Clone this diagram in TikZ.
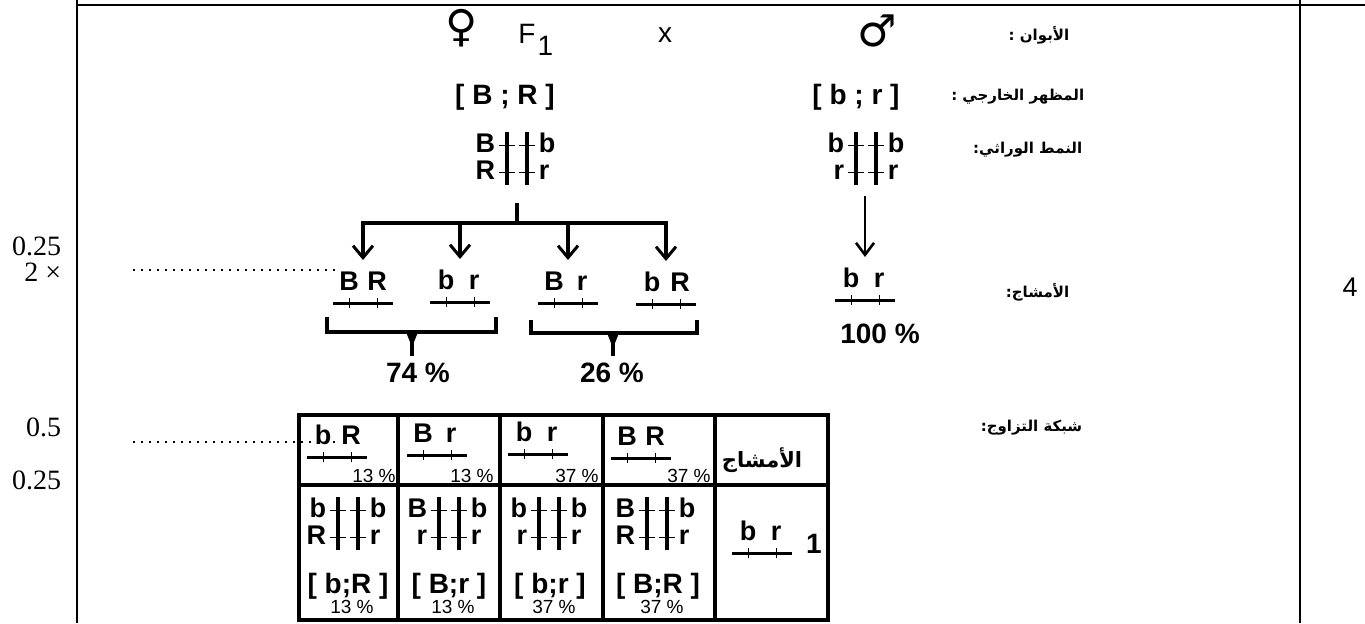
\documentclass[tikz,border=0pt]{standalone}
\usepackage{fontspec}
\setmainfont{Liberation Sans}
\newfontfamily\numfont{Liberation Serif}
\newfontfamily\symfont{DejaVu Sans}
\newfontfamily\arfont[Script=Arabic]{DejaVu Sans}
\TeXXeTstate=1
\usetikzlibrary{arrows.meta, calc}
\tikzset{
  every picture/.style={line width=0.8pt},
  gene/.style={font=\fontsize{13.5}{15}\selectfont\bfseries, inner sep=0pt, anchor=base},
  pheno/.style={font=\fontsize{14}{16}\selectfont\bfseries, inner sep=0pt, anchor=base},
  ratio/.style={font=\fontsize{14}{16}\selectfont\bfseries, inner sep=1pt, anchor=base},
  cellratio/.style={font=\fontsize{9.5}{11}\selectfont, inner sep=0pt, anchor=base},
  arlabel/.style={font=\arfont\bfseries\fontsize{7.5}{9}\selectfont, inner sep=0pt, anchor=east},
  score/.style={font=\numfont\fontsize{14}{16}\selectfont, inner sep=0pt, anchor=base east},
  gender/.style={font=\symfont\bfseries\fontsize{22}{24}\selectfont, inner sep=0pt},
  frame/.style={line width=0.9pt},
  chrom/.style={line width=1.5pt},
  crossbar/.style={line width=0.5pt},
  bar/.style={line width=1.8pt},
  branch/.style={line width=1.6pt},
  arrowdown/.style={line width=1.6pt, -{Straight Barb[length=6pt, width=10pt, line width=1.5pt]}},
  marrow/.style={line width=1pt, -{Straight Barb[length=6pt, width=9pt, line width=1.3pt]}},
  bracketline/.style={line width=1.6pt},
  dots/.style={line width=0.9pt, dash pattern=on 0.9pt off 3.1pt},
  gridouter/.style={line width=2pt},
  gridline/.style={line width=1.6pt},
}
% gamete: name, x, line y, left allele, right allele
\newcommand{\haplo}[5]{%
  \draw[chrom] (#2-30,#3) -- (#2+30,#3);
  \draw[crossbar] (#2-14,#3-5) -- (#2-14,#3+5);
  \draw[crossbar] (#2+14,#3-5) -- (#2+14,#3+5);
  \node[gene] (#1-l) at (#2-14,#3-13) {#4};
  \node[gene] (#1-r) at (#2+14,#3-13) {#5};
  \coordinate (#1) at (#2,#3-43);
}
% pair of homologous chromosomes: name, x, upper tick y, alleles
\newcommand{\chrompair}[7]{%
  \draw[bar] (#2-10,#3-13) -- (#2-10,#3+40);
  \draw[bar] (#2+10,#3-13) -- (#2+10,#3+40);
  \foreach \dy in {0,27} {
    \draw[crossbar] (#2-18,#3+\dy) -- (#2-2,#3+\dy);
    \draw[crossbar] (#2+2,#3+\dy) -- (#2+18,#3+\dy);
  }
  \node[gene, anchor=base east] (#1-ul) at (#2-21,#3+7) {#4};
  \node[gene, anchor=base west] (#1-ur) at (#2+21,#3+7) {#5};
  \node[gene, anchor=base east] (#1-ll) at (#2-21,#3+34) {#6};
  \node[gene, anchor=base west] (#1-lr) at (#2+21,#3+34) {#7};
}
\begin{document}
\begin{tikzpicture}[x=0.5pt, y=-0.5pt]
  \useasboundingbox (0,0) rectangle (1365,623);
  % frame and marks
  \draw[frame] (77,5) -- (1365,5);
  \draw[frame] (77,0) -- (77,623);
  \draw[frame] (1300,0) -- (1300,623);
  \node[font=\fontsize{13.5}{15}\selectfont] (total) at (1350,287) {4};
  \node[score] (s1) at (62,255) {0.25};
  \node[score] (s2) at (62,281) {2 ×};
  \node[score] (s3) at (62,436) {0.5};
  \node[score] (s4) at (62,489) {0.25};
  % row labels
  \node[arlabel] (lparents) at (1070,35) {\beginR الأبوان :\endR};
  \node[arlabel] (lpheno) at (1085,97) {\beginR المظهر الخارجي :\endR};
  \node[arlabel] (lgeno) at (1083,150) {\beginR النمط الوراثي:\endR};
  \node[arlabel] (lgam) at (1070,292) {\beginR الأمشاج:\endR};
  \node[arlabel] (lgrid) at (1083,428) {\beginR شبكة التزاوج:\endR};
  % parents
  \node[gender] (fem) at (462,28) {♀};
  \node[font=\fontsize{14}{16}\selectfont, anchor=base west] (fone) at (511,43) {F\kern1pt\raisebox{-6pt}{1}};
  \node[font=\fontsize{14}{16}\selectfont] (cross) at (665,35) {x};
  \node[gender] (male) at (877,31) {♂};
  \node[pheno] (phf) at (505,104) {[ B ; R ]};
  \node[pheno] (phm) at (856,104) {[ b ; r ]};
  \chrompair{pf}{517}{145}{B}{b}{R}{r}
  \chrompair{pm}{866}{145}{b}{b}{r}{r}
  % gametes
  \haplo{g1}{363}{303}{B}{R}
  \haplo{g2}{460}{302}{b}{r}
  \haplo{g3}{568}{303}{B}{r}
  \haplo{g4}{666}{304}{b}{R}
  \haplo{gm}{865}{300}{b}{r}
  \coordinate (stem) at (517,203);
  \coordinate (fork) at (517,223);
  \draw[branch] (stem) -- (fork);
  \foreach \i in {1,4} \draw[arrowdown] (fork) -| (g\i);
  \foreach \i in {2,3} \draw[arrowdown] (g\i |- fork) -- (g\i);
  \coordinate (mstem) at (865,196);
  \draw[marrow] (mstem) -- (gm);
  \node[ratio] (p100) at (880,343) {100 \%};
  % grouping brackets
  \node[ratio] (p74) at (418,382) {74 \%};
  \node[ratio] (p26) at (612,382) {26 \%};
  \coordinate (k1) at (412,332);
  \coordinate (k2) at (613,333);
  \draw[bracketline] (327,317) |- (k1) -| (496,317);
  \draw[bracketline] (531,320) |- (k2) -| (697,320);
  \foreach \k/\p in {k1/p74, k2/p26} {
    \fill ($(\k)+(-6,0)$) -- ($(\k)+(6,0)$) -- ($(\k)+(1.6,11)$) -- ($(\k)+(-1.6,11)$) -- cycle;
    \draw[branch, shorten >=2pt] (\k) -- (\k |- \p.north);
  }
  % cross grid
  \draw[gridouter] (299,415) rectangle (828,620);
  \foreach \x in {398,500,603,715} \draw[gridline] (\x,415) -- (\x,620);
  \draw[gridline] (299,485) -- (828,485);
  \haplo{h1}{337}{457}{b}{R}
  \haplo{h2}{437}{455}{B}{r}
  \haplo{h3}{538}{454}{b}{r}
  \haplo{h4}{641}{458}{B}{R}
  \haplo{h5}{762}{553}{b}{r}
  \node[font=\fontsize{14}{16}\selectfont\bfseries, anchor=base] (one) at (814,553) {1};
  \node[font=\arfont\bfseries\fontsize{10.5}{12}\selectfont] (lcell) at (762,460) {\beginR الأمشاج\endR};
  \foreach \x/\v [count=\i] in {374/13, 472/13, 577/37, 689/37}
    \node[cellratio] (t\i) at (\x,482) {\v~\%};
  \chrompair{c1}{348}{510}{b}{b}{R}{r}
  \chrompair{c2}{449}{510}{B}{b}{r}{r}
  \chrompair{c3}{549}{510}{b}{b}{r}{r}
  \chrompair{c4}{657}{510}{B}{b}{R}{r}
  \foreach \x/\a/\b/\v [count=\i] in {348/b/R/13, 449/B/r/13, 550/b/r/37, 658/B/R/37} {
    \node[pheno] (f\i) at (\x,593) {[ \a;\b\ ]};
    \node[cellratio] (u\i) at (\x+4,613) {\v~\%};
  }
  % scoring dots
  \coordinate (d1) at (133,270);
  \coordinate (d2) at (133,442);
  \draw[dots] (d1) -- (d1 -| g1-l.west);
  \draw[dots] (d2) -- (d2 -| h1-r.west);
\end{tikzpicture}
\end{document}
